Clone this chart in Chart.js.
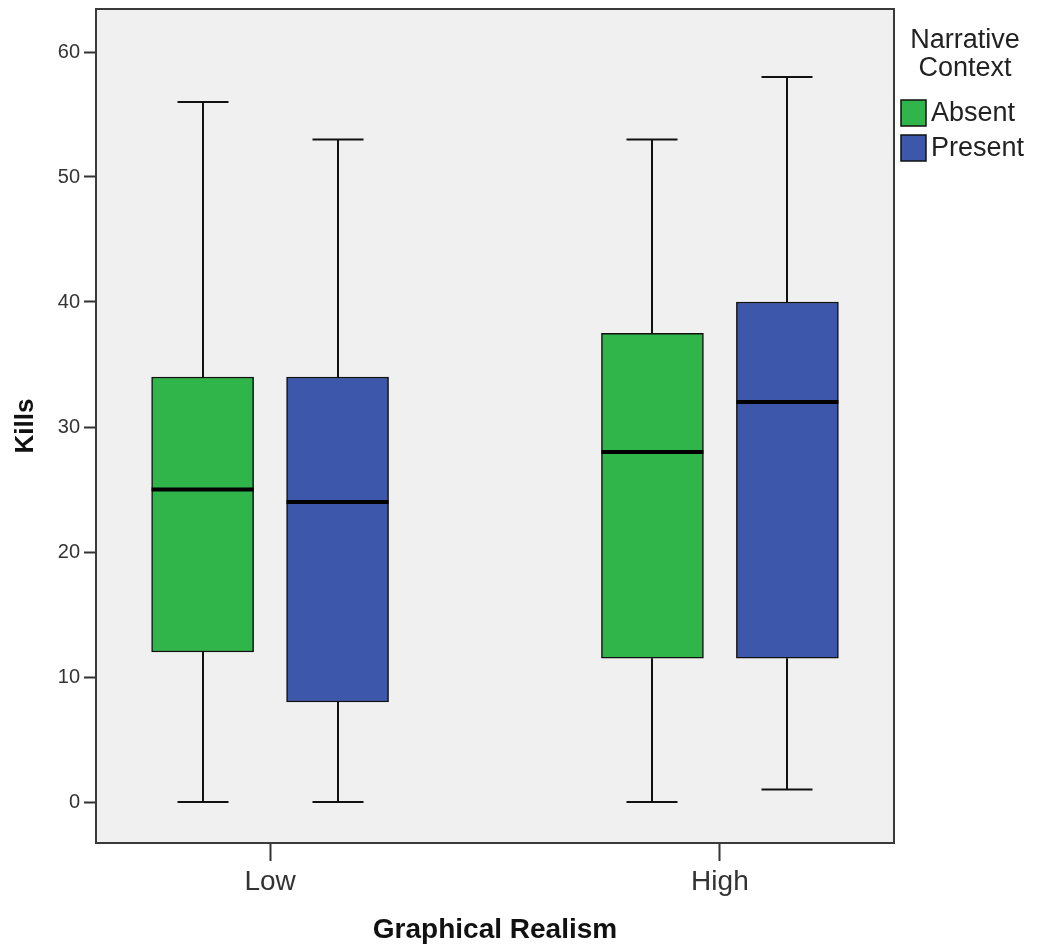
<!DOCTYPE html>
<html><head><meta charset="utf-8">
<script src="https://cdn.jsdelivr.net/npm/chart.js@4/dist/chart.umd.min.js"></script>
<style>html,body{margin:0;padding:0;background:#fff}</style>
</head><body>
<canvas id="c" width="1040" height="947"></canvas>
<script>
// ---- data ----
const categories = ['Low', 'High'];
const groups = ['Absent', 'Present'];
const absentMin    = [0, 0];
const absentQ1     = [12, 11.5];
const absentMedian = [25, 28];
const absentQ3     = [34, 37.5];
const absentMax    = [56, 53];
const presentMin    = [0, 1];
const presentQ1     = [8, 11.5];
const presentMedian = [24, 32];
const presentQ3     = [34, 40];
const presentMax    = [53, 58];
const yTickValues = [0, 10, 20, 30, 40, 50, 60];
const legendTitle = ['Narrative', 'Context'];

// ---- styling ----
const FONT = "'Liberation Sans', Arial, sans-serif";
const groupColors = ['#2fb54a', '#3d58aa'];
const groupOffset = [-0.15, 0.15];
const stats = [
  {min: absentMin, q1: absentQ1, med: absentMedian, q3: absentQ3, max: absentMax},
  {min: presentMin, q1: presentQ1, med: presentMedian, q3: presentQ3, max: presentMax}
];

const datasets = groups.map((g, gi) => ({
  label: g,
  data: categories.map((c, ci) => ({x: ci + groupOffset[gi], y: [stats[gi].q1[ci], stats[gi].q3[ci]]})),
  backgroundColor: groupColors[gi],
  borderColor: '#111',
  borderWidth: 1.5,
  borderSkipped: false,
  barThickness: 102,
  grouped: false
}));

const framePlugin = {
  id: 'frame',
  beforeDraw(chart) {
    const a = chart.chartArea, ctx = chart.ctx;
    ctx.save();
    ctx.fillStyle = '#f0f0f0';
    ctx.fillRect(a.left, a.top, a.right - a.left, a.bottom - a.top);
    ctx.restore();
  },
  afterDraw(chart) {
    const a = chart.chartArea, ctx = chart.ctx;
    ctx.save();
    ctx.strokeStyle = '#3a3a3a';
    ctx.lineWidth = 2;
    ctx.strokeRect(a.left, a.top, a.right - a.left, a.bottom - a.top);
    // legend
    ctx.fillStyle = '#222';
    ctx.font = '27px ' + FONT;
    ctx.textAlign = 'center';
    ctx.textBaseline = 'middle';
    legendTitle.forEach((t, i) => ctx.fillText(t, 965, 41 + i * 28));
    ctx.textAlign = 'left';
    groups.forEach((g, gi) => {
      const y = 100 + gi * 35;
      ctx.fillStyle = groupColors[gi];
      ctx.fillRect(901, y, 25, 26);
      ctx.strokeStyle = '#111';
      ctx.lineWidth = 1.5;
      ctx.strokeRect(901, y, 25, 26);
      ctx.fillStyle = '#222';
      ctx.fillText(g, 931, y + 14);
    });
    ctx.restore();
  }
};

const boxPlugin = {
  id: 'boxParts',
  beforeDatasetsDraw(chart) {
    const ctx = chart.ctx, ys = chart.scales.y;
    ctx.save();
    ctx.strokeStyle = '#111';
    ctx.lineWidth = 2;
    groups.forEach((g, gi) => {
      const meta = chart.getDatasetMeta(gi);
      categories.forEach((c, ci) => {
        const bar = meta.data[ci];
        const x = Math.round(bar.x), half = bar.width / 4;
        const s = stats[gi];
        const pMin = ys.getPixelForValue(s.min[ci]);
        const pMax = ys.getPixelForValue(s.max[ci]);
        const pQ1 = ys.getPixelForValue(s.q1[ci]);
        const pQ3 = ys.getPixelForValue(s.q3[ci]);
        ctx.beginPath();
        ctx.moveTo(x, pMax); ctx.lineTo(x, pQ3);
        ctx.moveTo(x, pQ1); ctx.lineTo(x, pMin);
        ctx.moveTo(x - half, pMax); ctx.lineTo(x + half, pMax);
        ctx.moveTo(x - half, pMin); ctx.lineTo(x + half, pMin);
        ctx.stroke();
      });
    });
    ctx.restore();
  },
  afterDatasetsDraw(chart) {
    const ctx = chart.ctx, ys = chart.scales.y;
    ctx.save();
    ctx.strokeStyle = '#000';
    ctx.lineWidth = 4;
    groups.forEach((g, gi) => {
      const meta = chart.getDatasetMeta(gi);
      categories.forEach((c, ci) => {
        const bar = meta.data[ci];
        const p = ys.getPixelForValue(stats[gi].med[ci]);
        ctx.beginPath();
        ctx.moveTo(bar.x - bar.width / 2, p);
        ctx.lineTo(bar.x + bar.width / 2, p);
        ctx.stroke();
      });
    });
    ctx.restore();
  }
};

new Chart(document.getElementById('c'), {
  type: 'bar',
  data: {datasets},
  plugins: [framePlugin, boxPlugin],
  options: {
    responsive: false,
    devicePixelRatio: 1,
    animation: false,
    layout: {padding: {left: 0, right: 146, top: 9, bottom: 0}},
    plugins: {legend: {display: false}, tooltip: {enabled: false}},
    scales: {
      x: {
        type: 'linear', min: -0.387, max: 1.387, offset: false,
        afterBuildTicks: s => { s.ticks = categories.map((c, i) => ({value: i})); },
        afterFit: s => { s.height = 104; s.paddingLeft = 0; s.paddingRight = 0; },
        ticks: {callback: v => categories[v], font: {family: FONT, size: 28}, color: '#333', padding: 4, autoSkip: false, maxRotation: 0},
        grid: {offset: false, drawOnChartArea: false, drawTicks: true, tickLength: 18, tickWidth: 2, tickColor: '#333'},
        border: {display: false},
        title: {display: true, text: 'Graphical Realism', font: {family: FONT, size: 28, weight: 'bold'}, color: '#111', padding: 0}
      },
      y: {
        type: 'linear', min: -3.28, max: 63.44,
        afterBuildTicks: s => { s.ticks = yTickValues.map(v => ({value: v})); },
        afterFit: s => { s.width = 96; s.paddingTop = 0; s.paddingBottom = 0; },
        ticks: {font: {family: FONT, size: 20}, color: '#333', padding: 4},
        grid: {drawOnChartArea: false, drawTicks: true, tickLength: 12, tickWidth: 2, tickColor: '#333'},
        border: {display: false},
        title: {display: true, text: 'Kills', font: {family: FONT, size: 26, weight: 'bold'}, color: '#111', padding: {top: 10}}
      }
    }
  }
});
</script>
</body></html>
